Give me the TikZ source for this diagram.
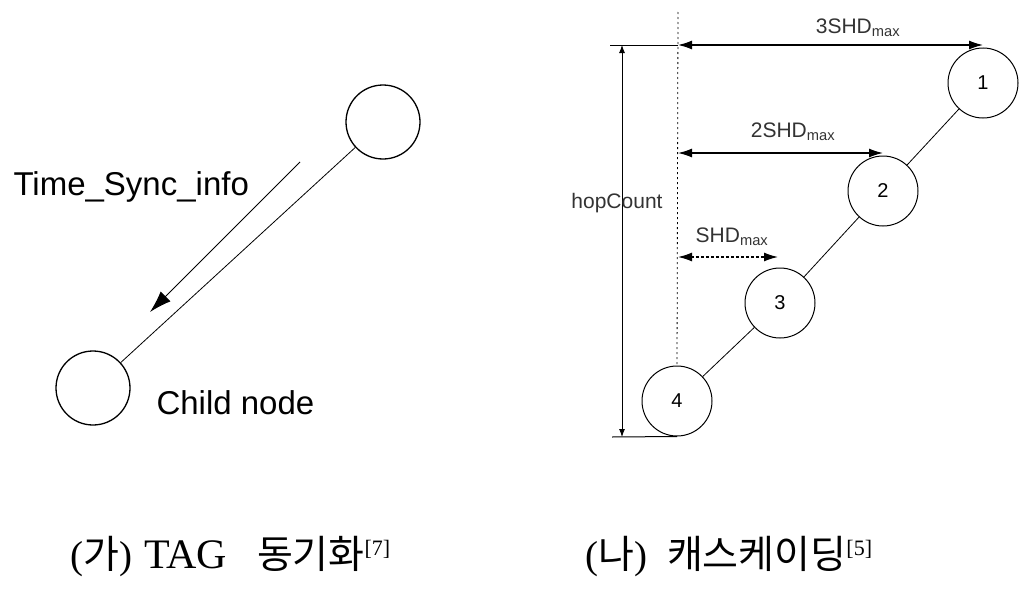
\documentclass[tikz,border=0pt]{standalone}
\usepackage{fontspec}
\setmainfont{Liberation Serif}
\setsansfont{Liberation Sans}
\newfontfamily\krfont{Noto Sans CJK KR}
\usetikzlibrary{arrows.meta,positioning}
\newcommand{\refmark}[1]{\raisebox{13pt}{\fontsize{22}{22}\selectfont[#1]}}
\tikzset{
  sensor/.style={draw,circle,line width=1.3pt,minimum size=74pt,inner sep=0pt},
  hopnode/.style={draw,circle,line width=1pt,minimum size=70pt,inner sep=0pt,font=\sffamily\fontsize{20}{22}\selectfont},
  link/.style={line width=0.8pt},
  dimarrow/.style={{Latex[length=14pt,width=9pt]}-{Latex[length=14pt,width=9pt]},line width=1.4pt},
  biglbl/.style={font=\sffamily\fontsize{33}{36}\selectfont},
  dimlbl/.style={font=\sffamily\fontsize{21}{23}\selectfont,text=black!80},
  capt/.style={font=\fontsize{39}{42}\selectfont,anchor=base west,inner sep=0pt},
}
\begin{document}
\begin{tikzpicture}[x=1pt,y=-1pt]
\useasboundingbox (0,0) rectangle (1020,589);
% (ga) TAG synchronisation
\node[sensor] (parent) at (383,122) {};
\node[sensor] (child) at (93,388) {};
\draw[link] (parent) -- (child);
\coordinate (syncS) at (300,162);
\coordinate (syncE) at (150,312);
\draw[-{Latex[length=22pt,width=14pt]},line width=1pt] (syncS) -- (syncE);
\node[biglbl,anchor=west] (syncinfo) at (10,187) {Time\_Sync\_info};
\node[biglbl,anchor=west] (childlbl) at (153,403) {Child node};
% (na) cascading
\node[hopnode] (n1) at (983,83) {1};
\node[hopnode] (n2) at (883,191) {2};
\node[hopnode] (n3) at (780,303) {3};
\node[hopnode] (n4) at (677,401) {4};
\foreach \u/\v in {n1/n2,n2/n3,n3/n4}
  \draw[link] (\u) -- (\v);
\coordinate (reftop) at (678,12);
\draw[line width=0.8pt,dash pattern=on 2pt off 3pt] (reftop) -- (n4.north);
\coordinate (topL) at (610,45);
\coordinate (topR) at (678,45);
\coordinate (botL) at (612,437);
\draw[line width=1pt] (topL) -- (topR);
\draw[line width=1pt] (botL) -- (n4.south);
\coordinate (hopTop) at (622,45);
\coordinate (hopBot) at (622,437);
\draw[{Latex[length=8pt,width=6pt]}-{Latex[length=8pt,width=6pt]},line width=0.9pt] (hopBot) -- (hopTop);
\node[dimlbl] (hoplbl) at (617,203) {hopCount};
\coordinate (mid2) at (678,153);
\coordinate (mid1) at (678,257);
\draw[dimarrow] (topR) -- (n1.north |- topR);
\draw[dimarrow] (mid2) -- (n2.north |- mid2);
\draw[dimarrow,dash pattern=on 3pt off 2pt] (mid1) -- (778,257);
\node[dimlbl] (shd3) at (858,28) {3SHD\textsubscript{max}};
\node[dimlbl] (shd2) at (793,132) {2SHD\textsubscript{max}};
\node[dimlbl] (shd1) at (732,237) {SHD\textsubscript{max}};
% captions
\node[capt] (capA) at (70,568) {({\krfont 가})\hspace{12pt}{\fontsize{42}{44}\selectfont TAG}\hspace{30pt}{\krfont 동기화}\refmark{7}};
\node[capt] (capB) at (585,568) {({\krfont 나})\hspace{20pt}{\krfont 캐스케이딩}\refmark{5}};
\end{tikzpicture}
\end{document}
